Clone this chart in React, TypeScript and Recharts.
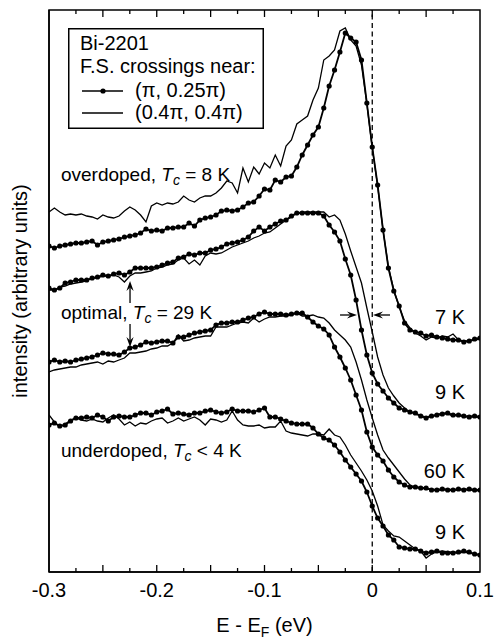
import React from 'react';
import {
  Legend, Line, LineChart, ReferenceDot, ReferenceLine, XAxis, YAxis,
} from 'recharts';

const FONT = '"Liberation Sans", Arial, Helvetica, sans-serif';

// binding energy E - E_F (eV)
const energy = [
  -0.3, -0.295, -0.29, -0.285, -0.28, -0.275, -0.27, -0.265, -0.26, -0.255,
  -0.25, -0.245, -0.24, -0.235, -0.23, -0.225, -0.22, -0.215, -0.21, -0.205,
  -0.2, -0.195, -0.19, -0.185, -0.18, -0.175, -0.17, -0.165, -0.16, -0.155,
  -0.15, -0.145, -0.14, -0.135, -0.13, -0.125, -0.12, -0.115, -0.11, -0.105,
  -0.1, -0.095, -0.09, -0.085, -0.08, -0.075, -0.07, -0.065, -0.06, -0.055,
  -0.05, -0.045, -0.04, -0.035, -0.03, -0.025, -0.02, -0.015, -0.01, -0.005,
  0, 0.005, 0.01, 0.015, 0.02, 0.025, 0.03, 0.035, 0.04, 0.045,
  0.05, 0.055, 0.06, 0.065, 0.07, 0.075, 0.08, 0.085, 0.09, 0.095,
  0.1,
];

// overdoped Tc = 8 K, measured at 7 K
const overPi = [
  326, 324, 326, 327, 328, 329, 329, 330, 331, 327,
  330, 331, 332, 333, 335, 336, 337, 339, 343, 341,
  342, 341, 344, 344, 345, 345, 349, 346, 352, 354,
  355, 357, 361, 362, 361, 362, 365, 369, 370, 376,
  383, 382, 392, 390, 395, 396, 405, 417, 427, 437,
  445, 464, 486, 502, 520, 539, 534, 530, 512, 469,
  425, 387, 342, 304, 281, 266, 249, 242, 240, 239,
  236, 237, 235, 234, 233, 232, 232, 230, 231, 233,
  234,
];
const overDiag = [
  360, 364, 360, 357, 358, 357, 358, 356, 355, 353,
  357, 355, 354, 356, 361, 365, 362, 357, 350, 366,
  369, 367, 369, 368, 370, 376, 372, 370, 374, 376,
  376, 379, 384, 391, 389, 379, 404, 390, 405, 398,
  409, 404, 417, 406, 426, 432, 448, 452, 456, 472,
  484, 512, 516, 522, 541, 544, 532, 526, 507, 468,
  424, 386, 342, 305, 282, 265, 251, 244, 239, 236,
  232, 235, 234, 236, 235, 238, 232, 231, 231, 232,
  233,
];

// optimal Tc = 29 K, 9 K
const optimalPi9 = [
  284, 282, 284, 289, 290, 292, 292, 292, 294, 295,
  297, 296, 298, 299, 297, 300, 304, 304, 304, 304,
  305, 307, 309, 310, 314, 315, 318, 317, 319, 319,
  322, 323, 325, 328, 329, 330, 332, 335, 341, 345,
  341, 345, 348, 351, 352, 356, 359, 359, 359, 359,
  359, 356, 347, 340, 331, 313, 297, 272, 242, 217,
  199, 188, 181, 174, 169, 164, 162, 160, 159, 156,
  154, 156, 157, 158, 159, 157, 157, 156, 155, 156,
  155,
];
const optimalDiag9 = [
  282, 282, 285, 286, 288, 289, 290, 291, 294, 294,
  296, 296, 297, 295, 290, 296, 299, 299, 300, 301,
  304, 305, 307, 308, 312, 314, 308, 312, 307, 316,
  319, 318, 319, 322, 325, 327, 329, 331, 334, 336,
  339, 340, 344, 348, 352, 355, 359, 360, 360, 360,
  360, 360, 355, 357, 352, 338, 321, 305, 289, 264,
  240, 215, 197, 184, 176, 169, 164, 160, 158, 156,
  155, 156, 157, 159, 158, 156, 157, 155, 156, 155,
  155,
];

// optimal Tc = 29 K, 60 K
const optimalPi60 = [
  210, 212, 210, 211, 210, 212, 213, 214, 215, 217,
  219, 218, 218, 217, 220, 224, 225, 227, 230, 229,
  230, 231, 231, 229, 235, 235, 237, 239, 240, 241,
  242, 247, 249, 249, 250, 250, 252, 254, 255, 258,
  260, 258, 258, 258, 257, 258, 259, 259, 255, 250,
  246, 243, 237, 225, 215, 204, 192, 177, 162, 140,
  125, 117, 111, 102, 95, 90, 87, 85, 85, 84,
  84, 82, 82, 83, 82, 82, 83, 82, 83, 82,
  82,
];
const optimalDiag60 = [
  200, 202, 203, 204, 205, 205, 207, 208, 209, 210,
  208, 211, 210, 212, 214, 219, 219, 220, 221, 223,
  224, 226, 226, 229, 237, 231, 232, 234, 235, 236,
  236, 245, 245, 245, 247, 249, 250, 249, 254, 250,
  253, 255, 255, 256, 256, 257, 259, 256, 256, 257,
  255, 254, 249, 242, 237, 232, 225, 210, 192, 172,
  154, 137, 122, 114, 107, 100, 93, 87, 85, 84,
  83, 83, 82, 82, 83, 82, 82, 83, 82, 82,
  81,
];

// underdoped Tc < 4 K, 9 K
const underPi = [
  147, 149, 146, 147, 151, 154, 154, 155, 154, 157,
  155, 151, 155, 156, 155, 155, 157, 159, 159, 157,
  160, 161, 163, 158, 159, 158, 157, 159, 159, 161,
  162, 160, 159, 160, 163, 161, 161, 161, 160, 162,
  164, 155, 155, 153, 151, 149, 148, 148, 148, 144,
  138, 134, 132, 127, 120, 112, 105, 98, 91, 80,
  66, 54, 46, 37, 32, 25, 24, 23, 23, 21,
  19, 20, 21, 19, 19, 19, 20, 21, 20, 18,
  17,
];
const underDiag = [
  157, 150, 145, 148, 152, 154, 152, 151, 153, 151,
  150, 154, 157, 153, 147, 150, 146, 149, 148, 151,
  153, 154, 149, 151, 154, 151, 153, 155, 152, 147,
  153, 152, 150, 152, 161, 152, 147, 146, 146, 147,
  144, 145, 145, 151, 141, 139, 138, 137, 136, 138,
  138, 137, 143, 137, 135, 127, 117, 109, 101, 92,
  81, 66, 47, 41, 36, 35, 31, 27, 23, 21,
  14, 18, 20, 21, 20, 20, 19, 20, 19, 18,
  17,
];

const tickValues = [
  -0.3, -0.275, -0.25, -0.225, -0.2, -0.175, -0.15, -0.125, -0.1,
  -0.075, -0.05, -0.025, 0, 0.025, 0.05, 0.075, 0.1,
];
const labelledTicks = [-0.3, -0.2, -0.1, 0, 0.1];
const tickLabels = ['-0.3', '-0.2', '-0.1', '0', '0.1'];
const legendOrder = ['overPi', 'overDiag'];

const X_MIN = -0.3;
const X_MAX = 0.1;
const Y_MAX = 562;

// layout
const CHART_W = 494;
const CHART_H = 639;
const MARGIN = {
  top: 10, right: 14, left: 48, bottom: 37,
};
const Y_AXIS_W = 1;
const X_AXIS_H = 30;
const PLOT_LEFT = MARGIN.left + Y_AXIS_W;
const PLOT_TOP = MARGIN.top;
const PLOT_W = CHART_W - PLOT_LEFT - MARGIN.right;
const PLOT_H = CHART_H - PLOT_TOP - MARGIN.bottom - X_AXIS_H;

const data = energy.map((e, i) => ({
  e,
  overPi: overPi[i],
  overDiag: overDiag[i],
  optimalPi9: optimalPi9[i],
  optimalDiag9: optimalDiag9[i],
  optimalPi60: optimalPi60[i],
  optimalDiag60: optimalDiag60[i],
  underPi: underPi[i],
  underDiag: underDiag[i],
}));

const isMajor = (v: number) => Math.abs(v * 20 - Math.round(v * 20)) < 1e-6;
const num = (v: any, fallback: number) => (Number.isFinite(v) ? v : fallback);
const near = (a: number, b: number) => Math.abs(a - b) < 1e-9;

function BottomTick(props: any) {
  const { x, y, payload } = props;
  const v = payload.value;
  const idx = labelledTicks.findIndex((t) => near(t, v));
  const edge = near(v, X_MIN) || near(v, X_MAX);
  return (
    <g>
      {!edge && <line x1={x} x2={x} y1={y} y2={y - (isMajor(v) ? 7 : 4)} stroke='#000' strokeWidth={1.3}/>}
      {idx >= 0 && (
        <text x={x} y={y + 25} textAnchor='middle' fontSize={20} fontFamily={FONT} fill='#000'>
          {tickLabels[idx]}
        </text>
      )}
    </g>
  );
}

function XTitle(props: any) {
  const vb = props.viewBox || {};
  const cx = num(vb.x + vb.width / 2, 264.5);
  const y = num(vb.y + 60, 632);
  return (
    <text x={cx} y={y} textAnchor='middle' fontSize={20} fontFamily={FONT} fill='#000'>
      E - E<tspan fontSize={14} dy={5}>F</tspan><tspan dy={-5}> (eV)</tspan>
    </text>
  );
}

function YTitle(props: any) {
  const vb = props.viewBox || {};
  const bx = num(vb.x + vb.width - 22, 27);
  const cy = num(vb.y + vb.height / 2, 291);
  return (
    <text
      x={0}
      y={0}
      transform={`translate(${bx},${cy}) rotate(-90)`}
      textAnchor='middle'
      fontSize={20}
      fontFamily={FONT}
      fill='#000'
    >
      intensity (arbitrary units)
    </text>
  );
}

function Note(text: string, sub: string, rest: string) {
  return function NoteLabel(props: any) {
    const vb = props.viewBox || {};
    return (
      <text x={num(vb.x, 0)} y={num(vb.y, 0)} fontSize={19} fontFamily={FONT} fill='#000'>
        {text}
        <tspan fontStyle='italic'>T</tspan>
        <tspan fontStyle='italic' fontSize={14} dy={4}>{sub}</tspan>
        <tspan dy={-4}>{rest}</tspan>
      </text>
    );
  };
}

function TempLabel(text: string) {
  return function TempText(props: any) {
    const vb = props.viewBox || {};
    return (
      <text x={num(vb.x, 0)} y={num(vb.y, 0)} textAnchor='end' fontSize={20} fontFamily={FONT} fill='#000'>
        {text}
      </text>
    );
  };
}

function Arrow(props: any) {
  const { x1, y1, x2, y2 } = props;
  const dx = x2 - x1;
  const dy = y2 - y1;
  const len = Math.hypot(dx, dy) || 1;
  const ux = dx / len;
  const uy = dy / len;
  const h = 10;
  const w = 3.6;
  const bx = x2 - ux * h;
  const by = y2 - uy * h;
  const nx = x2 - ux * h * 0.65;
  const ny = y2 - uy * h * 0.65;
  const d = `M${x2},${y2} L${bx - uy * w},${by + ux * w} L${nx},${ny} L${bx + uy * w},${by - ux * w} Z`;
  return (
    <g>
      <line x1={x1} y1={y1} x2={nx} y2={ny} stroke='#000' strokeWidth={1.3}/>
      <path d={d} fill='#000'/>
    </g>
  );
}

// plot frame and top tick marks, laid over the chart at the plot rectangle
function PlotFrame(): JSX.Element {
  const toX = (t: number) => PLOT_LEFT + ((t - X_MIN) / (X_MAX - X_MIN)) * PLOT_W;
  return (
    <svg
      width={CHART_W}
      height={CHART_H}
      style={{
        position: 'absolute', left: 0, top: 0, pointerEvents: 'none',
      }}
    >
      <rect x={PLOT_LEFT} y={PLOT_TOP} width={PLOT_W} height={PLOT_H} fill='none' stroke='#000' strokeWidth={1.5}/>
      {tickValues.slice(1, -1).map((t) => (
        <line
          key={t}
          x1={toX(t)}
          x2={toX(t)}
          y1={PLOT_TOP}
          y2={PLOT_TOP + (isMajor(t) ? 7 : 4)}
          stroke='#000'
          strokeWidth={1.3}
        />
      ))}
    </svg>
  );
}

const dottedKeys = ['overPi'];

function LegendBox(props: any) {
  const seen: string[] = [];
  const payload = (props.payload || [])
    .filter((p: any) => p.type !== 'none' && legendOrder.includes(p.dataKey))
    .filter((p: any) => (seen.includes(p.dataKey) ? false : (seen.push(p.dataKey), true)))
    .sort((a: any, b: any) => legendOrder.indexOf(a.dataKey) - legendOrder.indexOf(b.dataKey));
  return (
    <svg width={196} height={101} style={{ display: 'block' }}>
      <rect x={0.75} y={0.75} width={194.5} height={99.5} fill='#fff' stroke='#000' strokeWidth={1.5}/>
      <text x={12} y={22} fontSize={20} fontFamily={FONT} fill='#000'>Bi-2201</text>
      <text x={12} y={45} fontSize={20} fontFamily={FONT} fill='#000'>F.S. crossings near:</text>
      {payload.map((p: any, i: number) => {
        const y = 63 + i * 22;
        return (
          <g key={String(p.dataKey)}>
            <line x1={14} x2={55} y1={y} y2={y} stroke='#000' strokeWidth={1.5}/>
            {dottedKeys.includes(p.dataKey) && <circle cx={35} cy={y} r={2.6} fill='#000'/>}
            <text x={67} y={y + 6} fontSize={20} fontFamily={FONT} fill='#000'>{p.value}</text>
          </g>
        );
      })}
    </svg>
  );
}

const dotStyle = { r: 2.6, fill: '#000', stroke: 'none' };
const frame = { stroke: '#000', strokeWidth: 1.5 };

export default function App(): JSX.Element {
  return (
    <div style={{
      position: 'absolute', left: 0, top: 0, width: CHART_W, height: CHART_H,
    }}
    >
      <LineChart
        width={CHART_W}
        height={CHART_H}
        data={data}
        margin={MARGIN}
        style={{ fontFamily: FONT }}
      >
        <XAxis
          dataKey='e'
          type='number'
          domain={[X_MIN, X_MAX]}
          ticks={tickValues}
          interval={0}
          allowDataOverflow
          height={X_AXIS_H}
          tickSize={0}
          tickMargin={0}
          tickLine={false}
          tick={<BottomTick/>}
          axisLine={frame}
          label={<XTitle/>}
        />
        <YAxis
          type='number'
          domain={[0, Y_MAX]}
          allowDataOverflow
          width={Y_AXIS_W}
          tick={false}
          tickLine={false}
          axisLine={frame}
          label={<YTitle/>}
        />
        <ReferenceLine x={0} stroke='#000' strokeWidth={1.3} strokeDasharray='5 3.5'/>

        <Line dataKey='overDiag' name='(0.4π, 0.4π)' stroke='#000' strokeWidth={1.3} dot={false} activeDot={false} isAnimationActive={false}/>
        <Line dataKey='overPi' name='(π, 0.25π)' stroke='#000' strokeWidth={1.8} dot={dotStyle} activeDot={false} isAnimationActive={false}/>
        <Line dataKey='optimalDiag9' name='optimal 9 K (0.4π, 0.4π)' legendType='none' stroke='#000' strokeWidth={1.3} dot={false} activeDot={false} isAnimationActive={false}/>
        <Line dataKey='optimalPi9' name='optimal 9 K (π, 0.25π)' legendType='none' stroke='#000' strokeWidth={1.8} dot={dotStyle} activeDot={false} isAnimationActive={false}/>
        <Line dataKey='optimalDiag60' name='optimal 60 K (0.4π, 0.4π)' legendType='none' stroke='#000' strokeWidth={1.3} dot={false} activeDot={false} isAnimationActive={false}/>
        <Line dataKey='optimalPi60' name='optimal 60 K (π, 0.25π)' legendType='none' stroke='#000' strokeWidth={1.8} dot={dotStyle} activeDot={false} isAnimationActive={false}/>
        <Line dataKey='underDiag' name='underdoped (0.4π, 0.4π)' legendType='none' stroke='#000' strokeWidth={1.3} dot={false} activeDot={false} isAnimationActive={false}/>
        <Line dataKey='underPi' name='underdoped (π, 0.25π)' legendType='none' stroke='#000' strokeWidth={1.8} dot={dotStyle} activeDot={false} isAnimationActive={false}/>

        <ReferenceLine segment={[{ x: -0.2248, y: 269 }, { x: -0.2248, y: 291 }]} shape={Arrow}/>
        <ReferenceLine segment={[{ x: -0.2248, y: 248 }, { x: -0.2248, y: 225 }]} shape={Arrow}/>
        <ReferenceLine segment={[{ x: -0.0299, y: 257 }, { x: -0.0142, y: 257 }]} shape={Arrow}/>
        <ReferenceLine segment={[{ x: 0.0165, y: 257 }, { x: 0.0007, y: 257 }]} shape={Arrow}/>

        <ReferenceDot x={-0.2889} y={391} r={0} label={Note('overdoped, ', 'c', ' = 8 K')}/>
        <ReferenceDot x={-0.2889} y={253} r={0} label={Note('optimal, ', 'c', ' = 29 K')}/>
        <ReferenceDot x={-0.2889} y={115} r={0} label={Note('underdoped, ', 'c', ' < 4 K')}/>
        <ReferenceDot x={0.0861} y={248} r={0} label={TempLabel('7 K')}/>
        <ReferenceDot x={0.0861} y={173} r={0} label={TempLabel('9 K')}/>
        <ReferenceDot x={0.0861} y={94} r={0} label={TempLabel('60 K')}/>
        <ReferenceDot x={0.0861} y={33} r={0} label={TempLabel('9 K')}/>

        <Legend
          layout='vertical'
          align='center'
          verticalAlign='middle'
          wrapperStyle={{
            left: 68, top: 28, width: 196, height: 101,
          }}
          content={LegendBox}
        />
      </LineChart>
      <PlotFrame/>
    </div>
  );
}
